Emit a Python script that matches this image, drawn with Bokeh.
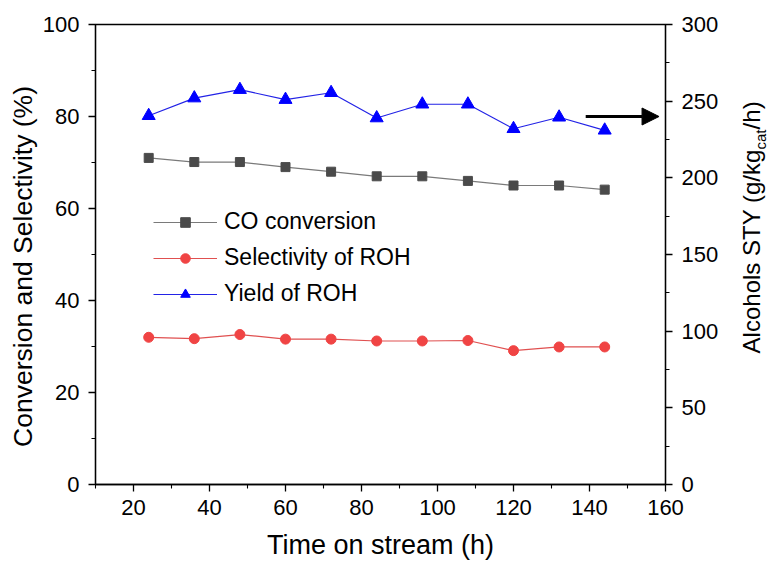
from math import pi

from bokeh.plotting import figure
from bokeh.layouts import row
from bokeh.models import (LinearAxis, Range1d, FixedTicker, Legend, LegendItem,
                          Arrow, NormalHead)
from bokeh.core.properties import value
from bokeh.embed import file_html
from bokeh.resources import INLINE

# Time on stream (h)
time_h = [24, 36, 48, 60, 72, 84, 96, 108, 120, 132, 144]
# CO conversion (%)
co_conversion = [71.0, 70.1, 70.1, 69.0, 68.0, 67.0, 67.0, 66.0, 65.0, 65.0, 64.1]
# Selectivity of alcohols (%)
selectivity_roh = [32.0, 31.7, 32.6, 31.6, 31.6, 31.2, 31.2, 31.3, 29.1, 29.9, 29.9]
# Space-time yield of alcohols (g/kg_cat/h)
yield_roh = [240.5, 252.0, 257.5, 251.0, 255.5, 239.0, 248.0, 248.0, 232.0, 239.5, 231.0]

x_ticks = [20, 40, 60, 80, 100, 120, 140, 160]
x_minor = [10, 30, 50, 70, 90, 110, 130, 150]
left_ticks = [0, 20, 40, 60, 80, 100]
left_minor = [10, 30, 50, 70, 90]
right_ticks = [0, 50, 100, 150, 200, 250, 300]
right_minor = [25, 75, 125, 175, 225, 275]

FONT = "Liberation Sans"
TOTAL_H = 563
LEFT_W, MAIN_W, RIGHT_W = 38, 687, 50

# ---------------------------------------------------------------- main plot
p = figure(width=MAIN_W, height=TOTAL_H, output_backend="svg", toolbar_location=None,
           x_range=Range1d(10, 160), y_range=Range1d(0, 100),
           min_border_left=57, min_border_right=60,
           min_border_top=24, min_border_bottom=79)
p.extra_y_ranges = {"sty": Range1d(0, 300)}
p.xgrid.visible = False
p.ygrid.visible = False
p.outline_line_color = "black"
p.outline_line_width = 1.3
p.background_fill_color = "white"
p.border_fill_color = "white"


def style_axis(ax, ticks, minor, standoff):
    ax.ticker = FixedTicker(ticks=ticks, minor_ticks=minor)
    ax.axis_line_width = 1.3
    ax.axis_line_color = "black"
    ax.major_tick_line_width = 1.3
    ax.minor_tick_line_width = 1.1
    ax.major_tick_in = 0
    ax.major_tick_out = 7
    ax.minor_tick_in = 0
    ax.minor_tick_out = 4
    ax.major_label_text_font = FONT
    ax.major_label_text_font_size = "22px"
    ax.major_label_text_color = "black"
    ax.major_label_standoff = standoff
    ax.axis_label_text_font = FONT
    ax.axis_label_text_font_style = "normal"
    ax.axis_label_text_color = "black"


style_axis(p.xaxis[0], x_ticks, x_minor, 8)
p.xaxis[0].axis_label = "Time on stream (h)"
p.xaxis[0].axis_label_text_font_size = "27px"
p.xaxis[0].axis_label_standoff = 12

style_axis(p.yaxis[0], left_ticks, left_minor, 9)
right = LinearAxis(y_range_name="sty")
style_axis(right, right_ticks, right_minor, 9)
p.add_layout(right, "right")

# Series
l_co = p.line(time_h, co_conversion, line_color="#7a7a7a", line_width=1.2)
m_co = p.scatter(time_h, co_conversion, marker="square", size=9,
                 fill_color="#4a4a4a", line_color="#4a4a4a")
l_sel = p.line(time_h, selectivity_roh, line_color="#e05050", line_width=1.2)
m_sel = p.scatter(time_h, selectivity_roh, marker="circle", size=10,
                  fill_color="#f04444", line_color="#f04444")
l_y = p.line(time_h, yield_roh, line_color="#2323e6", line_width=1.2,
             y_range_name="sty")
m_y = p.scatter(time_h, yield_roh, marker="triangle", size=13,
                fill_color="#0000ff", line_color="#0000ff", y_range_name="sty")

legend = Legend(items=[
    LegendItem(label="CO conversion", renderers=[l_co, m_co]),
    LegendItem(label="Selectivity of ROH", renderers=[l_sel, m_sel]),
    LegendItem(label="Yield of ROH", renderers=[l_y, m_y]),
], location=(58, 177))
legend.glyph_width = 64
legend.glyph_height = 24
legend.label_height = 24
legend.spacing = 9
legend.padding = 0
legend.margin = 0
legend.label_standoff = 7
legend.label_text_font = FONT
legend.label_text_font_size = "23px"
legend.label_text_color = "black"
legend.border_line_color = None
legend.background_fill_alpha = 0
p.add_layout(legend, "center")

# Arrow pointing to the right-hand (STY) axis
arrow_x0, arrow_x1, arrow_y = 139.0, 158.3, 80.0
p.add_layout(Arrow(end=NormalHead(size=17, fill_color="black", line_color="black"),
                   x_start=arrow_x0, y_start=arrow_y, x_end=arrow_x1, y_end=arrow_y,
                   line_width=3, line_color="black"))


# ------------------------------------------------------- side title strips
# The strips share the main plot's vertical frame, so their y axis uses the
# same 0-100 scale as the left axis.
def title_strip(width):
    f = figure(width=width, height=TOTAL_H, output_backend="svg",
               toolbar_location=None, x_range=Range1d(0, width),
               y_range=Range1d(0, 100), x_axis_type=None, y_axis_type=None,
               min_border=0, outline_line_color=None)
    f.xgrid.visible = False
    f.ygrid.visible = False
    return f


left_strip = title_strip(LEFT_W)
left_strip.text(x=[22], y=[47.4], text=["Conversion and Selectivity (%)"],
                angle=pi / 2, text_font=value(FONT), text_font_size="26.5px",
                text_color="black", text_align="center", text_baseline="middle")

# Right-axis title with a subscript, written in three rotated pieces
right_strip = title_strip(RIGHT_W)
right_strip.text(x=[26, 26], y=[28.5, 77.2], text=["Alcohols STY (g/kg", "/h)"],
                 angle=pi / 2, text_font=value(FONT), text_font_size="24px",
                 text_color="black", text_align="left", text_baseline="middle")
right_strip.text(x=[34.5], y=[72.8], text=["cat"],
                 angle=pi / 2, text_font=value(FONT), text_font_size="15px",
                 text_color="black", text_align="left", text_baseline="middle")

layout = row(left_strip, p, right_strip, spacing=0)
open("out.html", "w").write(file_html(layout, INLINE))
